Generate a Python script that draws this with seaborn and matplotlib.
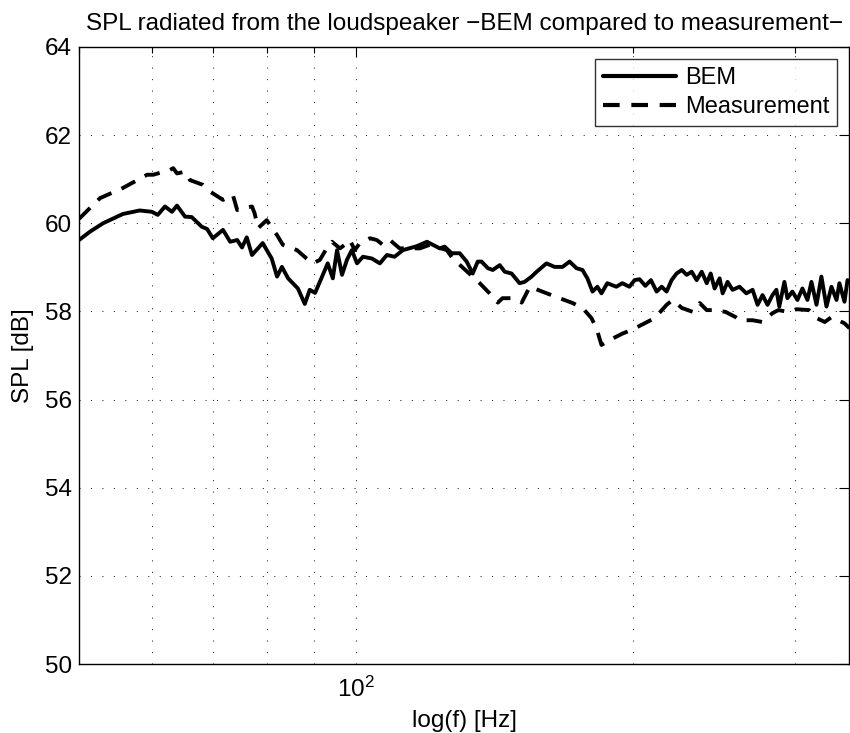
import numpy as np
import pandas as pd
import seaborn as sns
import matplotlib
matplotlib.use("Agg")
from matplotlib import pyplot as plt
from matplotlib import ticker

# BEM result (frequency in Hz, SPL in dB)
bem_freq = [50.0, 51.4, 53.1, 55.8, 58.2, 60.0, 60.9, 62.0, 63.1, 63.9, 65.2, 66.3,
            68.0, 68.9, 69.9, 71.7, 73.0, 74.3, 75.2, 76.1, 77.1, 79.2, 81.0, 82.1,
            83.1, 84.4, 86.5, 88.0, 89.1, 90.3, 91.9, 93.2, 94.4, 95.4, 96.6, 97.8,
            99.0, 100.3, 101.8, 104.1, 106.2, 108.1, 110.2, 112.5, 116.5, 119.5, 123.4,
            124.9, 127.1, 129.7, 132.0, 134.0, 135.7, 137.0, 139.2, 140.9, 143.4, 145.2,
            147.7, 150.7, 152.6, 155.3, 157.3, 161.2, 164.5, 167.8, 170.8, 173.8, 176.4,
            178.6, 180.9, 183.1, 185.0, 187.7, 192.0, 194.9, 198.4, 201.0, 203.5, 206.5,
            209.4, 212.4, 215.1, 217.8, 220.5, 223.3, 226.2, 229.0, 231.9, 234.8, 237.8,
            240.8, 243.2, 245.6, 248.7, 250.6, 253.7, 256.9, 261.4, 265.9, 270.1, 273.5,
            276.9, 280.4, 283.9, 286.7, 288.8, 292.5, 294.7, 298.4, 302.2, 306.0, 309.9,
            313.0, 317.0, 320.9, 325.0, 329.1, 333.3, 335.7, 340.0, 342.6]
bem_spl = [59.62, 59.81, 60.00, 60.21, 60.29, 60.26, 60.19, 60.38, 60.26, 60.40, 60.15, 60.14,
           59.92, 59.87, 59.66, 59.85, 59.58, 59.62, 59.45, 59.68, 59.28, 59.55, 59.20, 58.79,
           59.01, 58.75, 58.52, 58.17, 58.49, 58.42, 58.79, 59.09, 58.75, 59.39, 58.83, 59.17,
           59.39, 59.09, 59.24, 59.20, 59.09, 59.28, 59.24, 59.39, 59.48, 59.58, 59.43,
           59.47, 59.32, 59.32, 59.13, 58.86, 59.13, 59.13, 58.98, 58.94, 59.05, 58.90,
           58.86, 58.64, 58.67, 58.79, 58.90, 59.09, 59.01, 59.01, 59.13, 58.98, 58.94,
           58.75, 58.45, 58.56, 58.41, 58.64, 58.56, 58.64, 58.56, 58.71, 58.73, 58.58,
           58.71, 58.45, 58.56, 58.45, 58.71, 58.86, 58.94, 58.83, 58.90, 58.71, 58.90,
           58.64, 58.86, 58.52, 58.75, 58.41, 58.67, 58.49, 58.56, 58.41, 58.49, 58.15,
           58.37, 58.15, 58.37, 58.49, 58.11, 58.67, 58.30, 58.45, 58.26, 58.52, 58.26,
           58.67, 58.15, 58.79, 58.11, 58.56, 58.26, 58.64, 58.22, 58.71]

# Measurement
meas_freq = [50.0, 52.7, 55.8, 59.3, 60.2, 62.8, 63.3, 63.9, 65.2, 66.0, 68.2, 69.4,
             71.7, 73.5, 74.3, 75.4, 77.1, 77.6, 78.3, 80.0, 82.1, 83.3, 86.3, 88.4,
             89.8, 91.4, 93.2, 94.2, 96.1, 97.8, 98.5, 99.75, 101.0, 103.6, 105.4, 107.0,
             108.9, 111.6, 117.4, 120.3, 125.6, 127.5, 136.4, 139.8, 142.7, 144.4, 148.1,
             151.5, 154.6, 157.7, 163.2, 166.6, 172.1, 176.4, 180.4, 182.7, 185.0, 188.8,
             195.1, 199.5, 206.1, 211.4, 217.8, 221.1, 226.2, 232.5, 236.6, 240.8, 244.8,
             252.4, 258.9, 261.4, 270.1, 276.9, 283.9, 288.1, 295.4, 301.5, 311.1, 317.0,
             323.6, 329.1, 340.0, 344.3]
meas_spl = [60.10, 60.57, 60.80, 61.10, 61.10, 61.21, 61.25, 61.13, 61.17, 60.98, 60.87, 60.72,
            60.53, 60.64, 60.30, 60.34, 60.38, 60.23, 59.89, 60.07, 59.73, 59.51, 59.39, 59.20,
            59.09, 59.17, 59.47, 59.58, 59.43, 59.55, 59.62, 59.39, 59.55, 59.66, 59.62, 59.51,
            59.62, 59.43, 59.43, 59.51, 59.39, 59.20, 58.64, 58.41, 58.20, 58.30, 58.30,
            58.20, 58.56, 58.49, 58.37, 58.30, 58.19, 58.08, 57.85, 57.62, 57.24, 57.35,
            57.50, 57.58, 57.73, 57.85, 58.15, 58.26, 58.08, 57.99, 58.19, 58.03, 58.03,
            57.99, 57.87, 57.80, 57.80, 57.76, 57.96, 58.03, 57.99, 58.05, 58.03, 57.85,
            57.76, 57.87, 57.73, 57.62]

y_ticks = [50, 52, 54, 56, 58, 60, 62, 64]

df = pd.concat([
    pd.DataFrame({"freq": bem_freq, "spl": bem_spl, "source": "BEM"}),
    pd.DataFrame({"freq": meas_freq, "spl": meas_spl, "source": "Measurement"}),
], ignore_index=True)

sns.set_style("white")
plt.rcParams["font.family"] = ["Liberation Sans", "DejaVu Sans"]
plt.rcParams["mathtext.fontset"] = "custom"
plt.rcParams["mathtext.rm"] = "Liberation Sans"
plt.rcParams["mathtext.it"] = "Liberation Sans"
plt.rcParams["text.color"] = "black"
plt.rcParams["axes.labelcolor"] = "black"

FS = 17.5

fig = plt.figure(figsize=(8.5, 7.33), dpi=100)
ax = fig.add_axes([0.093, 0.094, 0.906, 0.842])

g = sns.lineplot(data=df, x="freq", y="spl", style="source",
                 dashes={"BEM": "", "Measurement": (4.0, 2.8)},
                 color="black", linewidth=2.8, estimator=None, sort=False, ax=ax)

ax.set_xscale("log")
ax.set_xlim(50, 344)
ax.set_ylim(50, 64)
ax.set_yticks(y_ticks)
ax.xaxis.set_major_locator(ticker.LogLocator(base=10))
ax.xaxis.set_minor_locator(ticker.LogLocator(base=10, subs=np.arange(2, 10)))
ax.xaxis.set_minor_formatter(ticker.NullFormatter())

grid_kw = dict(linestyle=(0, (1, 10)), color="0.15", linewidth=0.75)
ax.grid(which="both", axis="x", **grid_kw)
ax.grid(which="major", axis="y", **grid_kw)

ax.tick_params(which="both", direction="in", top=True, right=True,
               labelsize=FS, colors="black", width=0.8)
ax.tick_params(which="major", length=7)
ax.tick_params(axis="x", which="major", pad=9)
ax.tick_params(axis="y", which="major", pad=5)
ax.tick_params(which="minor", length=4)
for s in ax.spines.values():
    s.set_color("black")
    s.set_linewidth(1.0)

ax.set_xlabel("log(f) [Hz]", fontsize=FS, labelpad=6)
ax.set_ylabel("SPL [dB]", fontsize=FS, labelpad=8)
ax.set_title("SPL radiated from the loudspeaker \u2212BEM compared to measurement\u2212",
             fontsize=FS, pad=12)

leg = ax.legend(loc="upper right", fontsize=17, frameon=True, fancybox=False,
                edgecolor="black", handlelength=3.1, handletextpad=0.35,
                borderaxespad=0.5, labelspacing=0.3, borderpad=0.35, title=None)
leg.get_frame().set_linewidth(1.0)
for line in leg.get_lines():
    line.set_linewidth(3.0)

plt.savefig("out.png", dpi=100)
plt.close()
